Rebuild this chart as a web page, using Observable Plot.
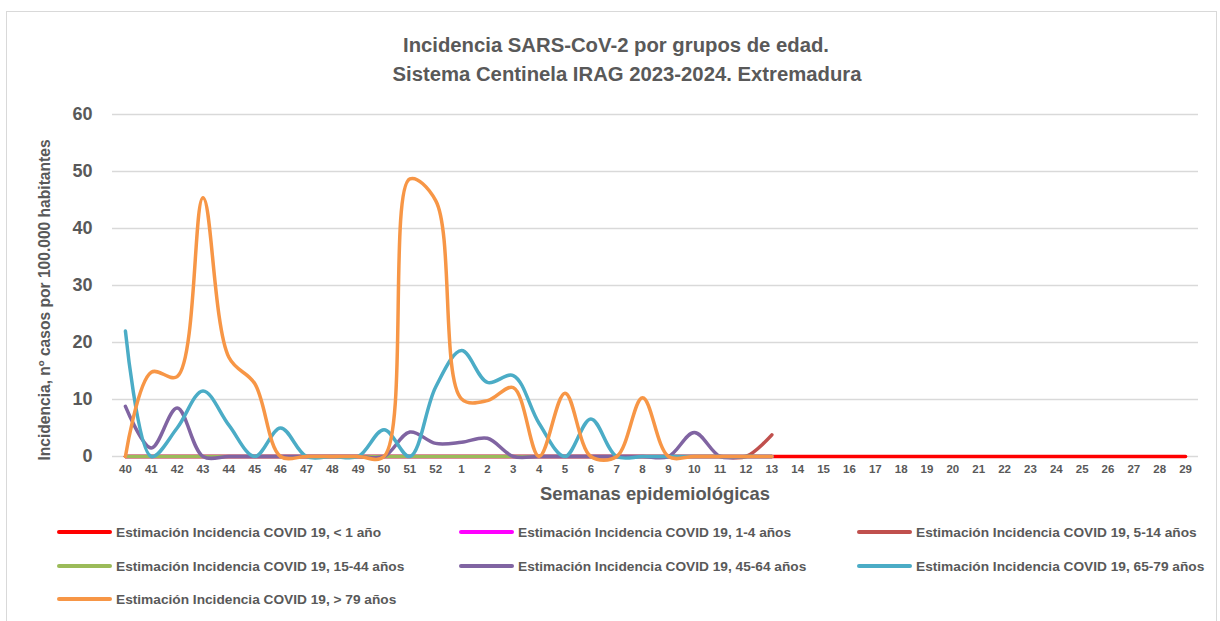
<!DOCTYPE html>
<html>
<head>
<meta charset="utf-8">
<script src="https://cdn.jsdelivr.net/npm/d3@7"></script>
<script src="https://cdn.jsdelivr.net/npm/@observablehq/plot@0.6"></script>
<style>
  html, body { margin: 0; padding: 0; background: #fff; }
  body { width: 1220px; height: 621px; position: relative; overflow: hidden; font-family: "Liberation Sans", Arial, sans-serif; color: #595959; }
  #frame { position: absolute; left: 6px; top: 11px; width: 1211px; height: 640px; border: 1.5px solid #d9d9d9; box-sizing: border-box; }
  #chart { position: absolute; left: 0; top: 0; }
  #chart svg { background: transparent; }
  #chart svg text { font-weight: bold; fill: #595959; font-family: "Liberation Sans", Arial, sans-serif; }
  .t { position: absolute; transform: translateX(-50%); white-space: nowrap; font-weight: bold; color: #595959; }
  #t1 { left: 616px; top: 34px; font-size: 20.3px; }
  #t2 { left: 627px; top: 63px; font-size: 20.3px; }
  #xl { left: 655px; top: 483px; font-size: 18.4px; }
  #yl { position: absolute; left: 45px; top: 300px; transform: translate(-50%, -50%) rotate(-90deg); white-space: nowrap; font-weight: bold; font-size: 15.6px; color: #595959; }
  .lg { position: absolute; display: flex; align-items: center; font-size: 13.7px; font-weight: bold; color: #595959; white-space: nowrap; }
  .lg span.sw { display: inline-block; width: 55px; height: 4px; border-radius: 2px; margin-right: 4px; }
</style>
</head>
<body>
<div id="frame"></div>
<div id="chart"></div>
<div class="t" id="t1">Incidencia SARS-CoV-2 por grupos de edad.</div>
<div class="t" id="t2">Sistema Centinela IRAG 2023-2024. Extremadura</div>
<div class="t" id="xl">Semanas epidemiológicas</div>
<div id="yl">Incidencia, nº casos por 100.000 habitantes</div>
<div id="legend"></div>
<script>
// Weeks (categories)
const weeks = ["40","41","42","43","44","45","46","47","48","49","50","51","52",
  "1","2","3","4","5","6","7","8","9","10","11","12","13","14","15","16","17",
  "18","19","20","21","22","23","24","25","26","27","28","29"];

// Series names and colours
const seriesNames = [
  "Estimación Incidencia COVID 19, < 1 año",
  "Estimación Incidencia COVID 19, 1-4 años",
  "Estimación Incidencia COVID 19, 5-14 años",
  "Estimación Incidencia COVID 19, 15-44 años",
  "Estimación Incidencia COVID 19, 45-64 años",
  "Estimación Incidencia COVID 19, 65-79 años",
  "Estimación Incidencia COVID 19, > 79 años"
];
const seriesColors = ["#FF0000", "#FF00FF", "#C0504D", "#9BBB59", "#8064A2", "#4BACC6", "#F79646"];

// Values per week (weeks 40 .. 29 for < 1 año; 40 .. 13 for the others)
const menor1 = [0,0,0,0,0,0,0,0,0,0,0,0,0, 0,0,0,0,0,0,0,0,0,0,0,0,0, 0,0,0,0,0,0,0,0,0,0,0,0,0,0,0,0];
const de1a4 = [0,0,0,0,0,0,0,0,0,0,0,0,0, 0,0,0,0,0,0,0,0,0,0,0,0,0];
const de5a14 = [0,0,0,0,0,0,0,0,0,0,0,0,0, 0,0,0,0,0,0,0,0,0,0,0,0,3.8];
const de15a44 = [0,0,0,0,0,0,0,0,0,0,0,0,0, 0,0,0,0,0,0,0,0,0,0,0,0,0];
const de45a64 = [8.8,1.5,8.5,0,0,0,0,0,0,0,0,4.3,2.3, 2.5,3.2,0,0,0,0,0,0,0,4.2,0,0,0];
const de65a79 = [22.0,0,5.0,11.5,5.5,0,5.0,0,0,0,4.7,0,12.2, 18.6,13.0,14.2,5.8,0,6.6,0,0,0,0,0,0,0];
const mayor79 = [0,14.8,14.0,45.4,17.4,12.8,0,0,0,0,0,48.7,44.9, 10.1,9.8,12.1,0,11.1,0,0,10.3,0,0,0,0,0];

const yTicks = [0,10,20,30,40,50,60];

const seriesValues = [menor1, de1a4, de5a14, de15a44, de45a64, de65a79, mayor79];
const rows = [];
seriesValues.forEach((vals, s) => vals.forEach((v, i) => rows.push({week: weeks[i], value: v, serie: seriesNames[s]})));

const chart = Plot.plot({
  width: 1220,
  height: 510,
  marginLeft: 112,
  marginRight: 22,
  marginTop: 114,
  marginBottom: 54,
  style: {background: "transparent", color: "#595959", fontFamily: "Liberation Sans, Arial, sans-serif"},
  x: {type: "point", domain: weeks, padding: 0.5, label: null},
  y: {domain: [0, 60], label: null},
  color: {domain: seriesNames, range: seriesColors},
  marks: [
    Plot.gridY(yTicks, {stroke: "#d9d9d9", strokeOpacity: 1, strokeWidth: 1.5}),
    Plot.axisY(yTicks, {tickSize: 0, tickPadding: 20, fontSize: 18, label: null}),
    Plot.axisX({tickSize: 0, tickPadding: 8, fontSize: 11.5, label: null}),
    Plot.line(rows, {x: "week", y: "value", z: "serie", stroke: "serie", strokeWidth: 3.5, curve: "catmull-rom", strokeLinecap: "round", strokeLinejoin: "round"})
  ]
});
document.getElementById("chart").appendChild(chart);

// Legend (3 columns)
const legendPos = [[57,532],[459,532],[857,532],[57,566],[459,566],[857,566],[57,599]];
const lg = document.getElementById("legend");
seriesNames.forEach((name, i) => {
  const d = document.createElement("div");
  d.className = "lg";
  d.style.left = legendPos[i][0] + "px";
  d.style.top = (legendPos[i][1] - 9) + "px";
  d.style.height = "18px";
  const sw = document.createElement("span");
  sw.className = "sw";
  sw.style.background = seriesColors[i];
  d.appendChild(sw);
  d.appendChild(document.createTextNode(name));
  lg.appendChild(d);
});
</script>
</body>
</html>
